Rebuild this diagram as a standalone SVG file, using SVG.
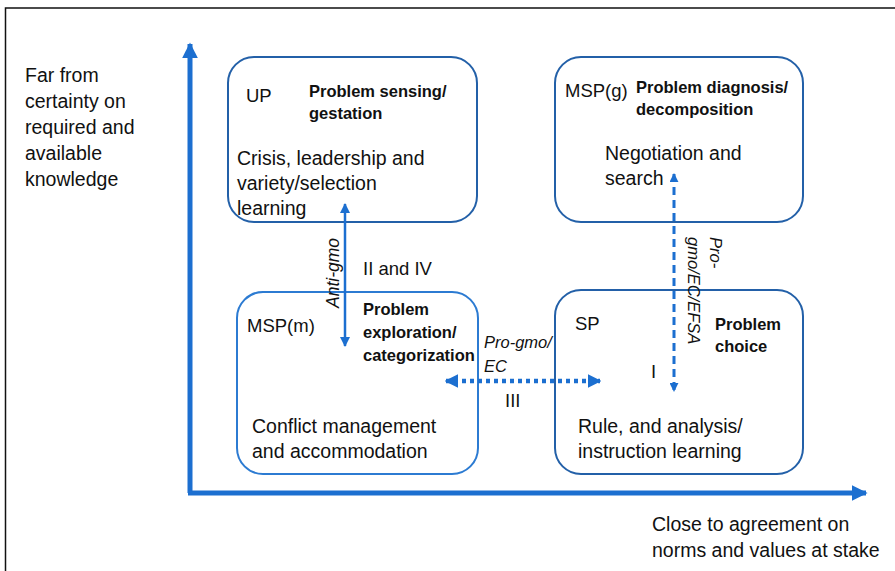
<svg xmlns="http://www.w3.org/2000/svg" width="895" height="571" viewBox="0 0 895 571">
<style>
text{font-family:"Liberation Sans",Arial,sans-serif;fill:#111;}
.t{font-size:19.5px;}
.lbl{font-size:18.5px;}
.b{font-size:16.5px;font-weight:bold;}
.i{font-size:16.5px;font-style:italic;}
.box{fill:none;stroke:#2360a8;stroke-width:2;}
.boxl{fill:none;stroke:#2c7bd2;stroke-width:2;}
.ax{stroke:#1c6fd0;stroke-width:5;fill:none;}
</style>
<defs>
<marker id="ah" viewBox="0 0 10 10" refX="9" refY="5" markerWidth="3.2" markerHeight="3.4" orient="auto-start-reverse" markerUnits="strokeWidth"><path d="M0,0 L10,5 L0,10 z" fill="#1c6fd0"/></marker>
<marker id="sh" viewBox="0 0 10 10" refX="9" refY="5" markerWidth="4" markerHeight="4" orient="auto-start-reverse" markerUnits="strokeWidth"><path d="M0,0 L10,5 L0,10 z" fill="#1c6fd0"/></marker>
<marker id="dh" viewBox="0 0 10 10" refX="9" refY="5" markerWidth="3" markerHeight="3" orient="auto-start-reverse" markerUnits="strokeWidth"><path d="M0,0 L10,5 L0,10 z" fill="#1c6fd0"/></marker>
</defs>
<rect x="0" y="0" width="895" height="571" fill="#fff"/>
<path d="M5.5,580 V8 H900" fill="none" stroke="#111" stroke-width="1.5"/>

<g id="left-label">
<text class="t" x="25" y="82">Far from</text>
<text class="t" x="25" y="108">certainty on</text>
<text class="t" x="25" y="134">required and</text>
<text class="t" x="25" y="160">available</text>
<text class="t" x="25" y="186">knowledge</text>
</g>
<g id="bottom-label">
<text class="t" x="652" y="531">Close to agreement on</text>
<text class="t" x="652" y="557">norms and values at stake</text>
</g>

<g id="axes">
<path class="ax" d="M190,493 V44" marker-end="url(#ah)"/>
<path class="ax" d="M188,493 H866" marker-end="url(#ah)"/>
</g>

<g id="UP">
<rect class="box" x="228" y="57" width="249" height="165" rx="26"/>
<text class="lbl" x="246" y="102">UP</text>
<text class="b" x="309" y="97">Problem sensing/</text>
<text class="b" x="309" y="119">gestation</text>
<text class="t" x="237" y="165">Crisis, leadership and</text>
<text class="t" x="237" y="190">variety/selection</text>
<text class="t" x="237" y="215">learning</text>
</g>

<g id="MSPg">
<rect class="box" x="555" y="57" width="248" height="165" rx="26"/>
<text class="lbl" x="565" y="97">MSP(g)</text>
<text class="b" x="636" y="93">Problem diagnosis/</text>
<text class="b" x="636" y="115">decomposition</text>
<text class="t" x="605" y="160">Negotiation and</text>
<text class="t" x="605" y="185">search</text>
</g>

<g id="MSPm">
<rect class="boxl" x="237" y="292" width="241" height="182" rx="26"/>
<text class="lbl" x="247" y="332">MSP(m)</text>
<text class="b" x="363" y="315">Problem</text>
<text class="b" x="363" y="338">exploration/</text>
<text class="b" x="363" y="361">categorization</text>
<text class="t" x="252" y="433">Conflict management</text>
<text class="t" x="252" y="458">and accommodation</text>
</g>

<g id="SP">
<rect class="box" x="555" y="290" width="248" height="184" rx="26"/>
<text class="lbl" x="575" y="330">SP</text>
<text class="b" x="715" y="330">Problem</text>
<text class="b" x="715" y="352">choice</text>
<text class="t" x="578" y="433">Rule, and analysis/</text>
<text class="t" x="578" y="458">instruction learning</text>
</g>

<g id="connectors">
<path d="M345,204 V346" stroke="#1c6fd0" stroke-width="2.5" fill="none" marker-start="url(#sh)" marker-end="url(#sh)"/>
<path d="M674,174 V391" stroke="#1c6fd0" stroke-width="3" stroke-dasharray="8 5" fill="none" marker-start="url(#dh)" marker-end="url(#dh)"/>
<path d="M446,381 H600" stroke="#1c6fd0" stroke-width="4.5" stroke-dasharray="4 4" fill="none" marker-start="url(#dh)" marker-end="url(#dh)"/>
<text class="i" transform="translate(339,308) rotate(-90)" style="font-size:17.5px">Anti-gmo</text>
<text class="lbl" x="363" y="275">II and IV</text>
<text class="i" x="484" y="348">Pro-gmo/</text>
<text class="i" x="484" y="372">EC</text>
<text class="lbl" x="505" y="407">III</text>
<text class="lbl" x="651" y="378">I</text>
<text class="i" transform="translate(710,237) rotate(90)">Pro-</text>
<text class="i" transform="translate(688,237) rotate(90)">gmo/EC/EFSA</text>
</g>
</svg>
